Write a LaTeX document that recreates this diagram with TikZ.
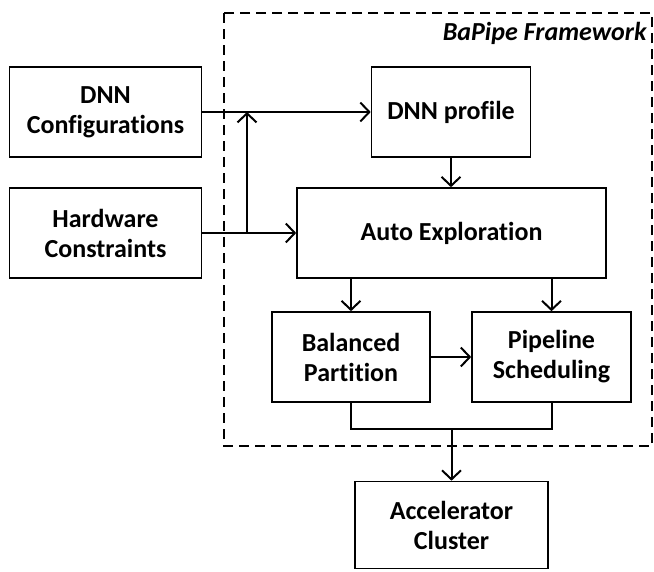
\documentclass[tikz,border=0pt]{standalone}
\usepackage{fontspec}
\setmainfont{Carlito}[Ligatures=NoCommon]
\usetikzlibrary{arrows.meta}

\begin{document}
\begin{tikzpicture}[x=1pt, y=-1pt,
    box/.style={draw, line width=1.6pt, inner sep=0pt, align=center,
        font={\fontsize{26}{30}\selectfont\bfseries}},
    link/.style={line width=2pt, -{Straight Barb[length=9pt, width=19pt]}}]
    \useasboundingbox (0,0) rectangle (654,571);
    % Framework border
    \draw[line width=1.5pt, dash pattern=on 10pt off 6pt] (224,13) rectangle (652,446);
    \node[anchor=base east, font={\fontsize{26}{30}\selectfont\bfseries\itshape}] (title) at (650,40) {BaPipe Framework};
    % Inputs
    \node[box, minimum width=192pt, minimum height=90pt] (cfg) at (105.5,112) {DNN\\Configurations};
    \node[box, minimum width=192pt, minimum height=90pt] (hw) at (105.5,233) {Hardware\\Constraints};
    % Framework stages
    \node[box, minimum width=159pt, minimum height=90pt] (profile) at (451,112) {DNN profile};
    \node[box, minimum width=309pt, minimum height=90pt] (explore) at (451.5,233) {Auto Exploration};
    \node[box, minimum width=158pt, minimum height=90pt] (partition) at (351,357) {Balanced\\Partition};
    \node[box, minimum width=159pt, minimum height=90pt] (sched) at (551.5,357) {Pipeline\\Scheduling};
    % Output
    \node[box, minimum width=193pt, minimum height=87pt] (accel) at (451.5,525) {Accelerator\\Cluster};
    % Input connectors
    \coordinate (split) at (247,233);
    \draw[link] (cfg.east) -- (profile.west);
    \draw[link] (hw.east) -- (explore.west);
    \draw[link] (split) -- (split |- cfg.east);
    % Inside the framework
    \draw[link] (profile.south) -- (explore.north -| profile.south);
    \draw[link] (explore.south -| partition.north) -- (partition.north);
    \draw[link] (explore.south -| sched.north) -- (sched.north);
    \draw[link] (partition.east) -- (sched.west);
    % Merge to the cluster
    \coordinate (join) at (451.5,429);
    \draw[line width=2pt] (partition.south) |- (join) -| (sched.south);
    \draw[link] (join) -- (accel.north);
\end{tikzpicture}
\end{document}
